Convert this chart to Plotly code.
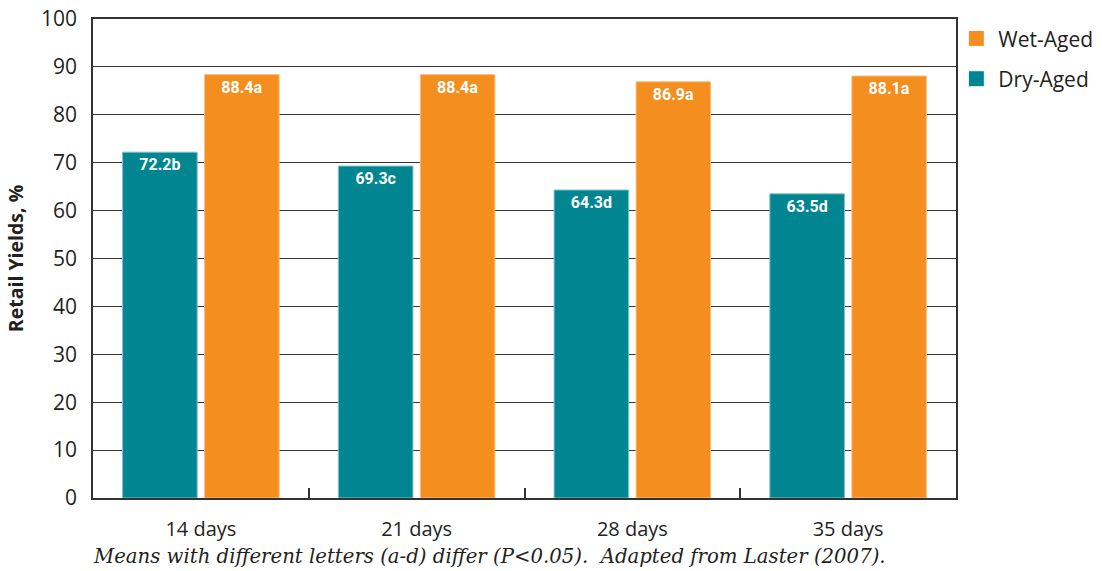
import plotly.graph_objects as go

categories = ["14 days", "21 days", "28 days", "35 days"]
dry_aged = [72.2, 69.3, 64.3, 63.5]
dry_letters = ["b", "c", "d", "d"]
wet_aged = [88.4, 88.4, 86.9, 88.1]
wet_letters = ["a", "a", "a", "a"]
y_ticks = [0, 10, 20, 30, 40, 50, 60, 70, 80, 90, 100]
caption = "Means with different letters (a-d) differ (P<0.05).  Adapted from Laster (2007)."

TEAL = "#008591"
ORANGE = "#F48E1F"
DARK = "#231f20"
LABEL_FONT = dict(family="Liberation Sans Narrow, Arial Narrow, Roboto, sans-serif", size=16, color="white")

fig = go.Figure()
fig.add_trace(go.Bar(
    x=categories, y=dry_aged, name="Dry-Aged",
    marker=dict(color=TEAL, line=dict(color="#7fc3c9", width=1)),
    text=[f"<b>{v:.1f}{l}</b>" for v, l in zip(dry_aged, dry_letters)],
    textposition="inside", insidetextanchor="end", textangle=0,
    textfont=LABEL_FONT, showlegend=False, hoverinfo="skip",
))
fig.add_trace(go.Bar(
    x=categories, y=wet_aged, name="Wet-Aged",
    marker=dict(color=ORANGE, line=dict(color="#f9c089", width=1)),
    text=[f"<b>{v:.1f}{l}</b>" for v, l in zip(wet_aged, wet_letters)],
    textposition="inside", insidetextanchor="end", textangle=0,
    textfont=LABEL_FONT, showlegend=False, hoverinfo="skip",
))
# legend entries (Wet-Aged listed first, as in the reference)
for name, col in [("Wet-Aged", ORANGE), ("Dry-Aged", TEAL)]:
    fig.add_trace(go.Scatter(
        x=[None], y=[None], mode="markers", name=name, legendgroup=name,
        marker=dict(symbol="square", size=24, color=col,
                    line=dict(color="white", width=1)),
    ))

fig.update_layout(
    width=1102, height=571,
    margin=dict(l=93, r=146, t=19, b=73, autoexpand=False),
    paper_bgcolor="white", plot_bgcolor="white",
    barmode="group", bargap=0.24, bargroupgap=0.09,
    font=dict(family="Open Sans, sans-serif", color=DARK),
    showlegend=True,
    legend=dict(
        xref="container", yref="container",
        x=0.866, y=0.968, xanchor="left", yanchor="top",
        traceorder="grouped", font=dict(size=21, color=DARK,
                                        family="Open Sans, sans-serif"),
        bgcolor="rgba(0,0,0,0)", itemwidth=34, tracegroupgap=10,
    ),
    xaxis=dict(
        type="category", showline=True, linecolor="#333", linewidth=1.5,
        mirror=True, ticks="inside", tickson="boundaries", ticklen=10,
        tickcolor="#333", tickwidth=1.5, showgrid=False, automargin=False,
        tickfont=dict(size=20, color=DARK), ticklabelstandoff=12,
    ),
    yaxis=dict(
        range=[0, 100], tickvals=y_ticks, showline=True, linecolor="#333",
        linewidth=1.5, mirror=True, ticks="", showgrid=True, automargin=False,
        gridcolor="#333", gridwidth=1, zeroline=False,
        tickfont=dict(size=21, color=DARK), ticklabelstandoff=10,
        title=dict(text="<b>Retail Yields, %</b>", font=dict(size=19.5, color=DARK),
                   standoff=12),
    ),
    annotations=[dict(
        text=caption, xref="paper", yref="paper", x=0.459, y=-0.123,
        xanchor="center", yanchor="middle", showarrow=False,
        font=dict(family="DejaVu Serif, Liberation Serif, serif", size=19.7,
                  color=DARK, style="italic"),
    )],
)

fig.write_html("out.html", config={"displayModeBar": False},
               post_script="document.body.style.margin='0';document.body.style.overflow='hidden';")
